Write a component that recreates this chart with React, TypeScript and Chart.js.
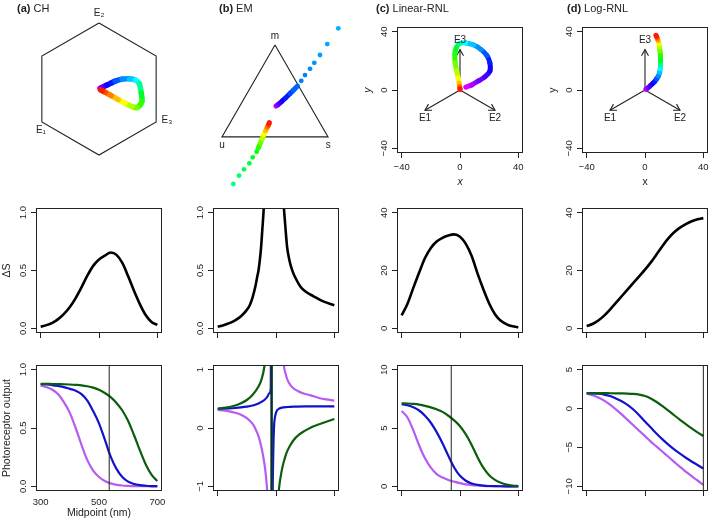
import React, { useEffect, useRef } from 'react';
import { Chart, registerables } from 'chart.js';

Chart.register(...registerables);

const FONT = '"Liberation Sans", Arial, Helvetica, sans-serif';
const INK = '#222222';
const TICK_SIZE = 9.5;
const TITLE_SIZE = 10.5;
Chart.defaults.font.family = FONT;
Chart.defaults.color = INK;

// ================= data =================
const WL = [300, 320, 340, 360, 380, 400, 420, 440, 460, 480, 500, 520, 540, 560, 580, 600, 620, 640, 660, 680, 700];

// ---- Row 1: loci (one point per WL) ----
const chLocusX = [0.013, 0.026, 0.045, 0.078, 0.12, 0.185, 0.245, 0.35, 0.46, 0.555, 0.61, 0.64, 0.65, 0.58, 0.5, 0.395, 0.29, 0.185, 0.097, 0.05, 0.025];
const chLocusY = [0.007, 0.014, 0.023, 0.04, 0.06, 0.09, 0.12, 0.15, 0.155, 0.135, 0.08, -0.06, -0.19, -0.28, -0.265, -0.215, -0.16, -0.1, -0.052, -0.027, -0.015];
const hexX = [0, 0.866, 0.866, 0, -0.866, -0.866, 0];
const hexY = [1, 0.5, -0.5, -1, -0.5, 0.5, 1];
const hexLabels = ['E₂', 'E₃', 'E₁'];
const hexLabelX = [0, 1.03, -0.88];
const hexLabelY = [1.15, -0.47, -0.62];

const emUpperWl = [300, 320, 340, 360, 380, 400, 420, 430, 440];
const emUpperX = [0.013, 0.025, 0.042, 0.065, 0.095, 0.14, 0.2, 0.245, 0.3];
const emUpperY = [0.004, 0.012, 0.025, 0.043, 0.07, 0.11, 0.17, 0.215, 0.27];
const emUpperDotWl = [443, 446, 450, 453, 456, 459, 462];
const emUpperDotX = [0.35, 0.4, 0.467, 0.524, 0.6, 0.697, 0.844];
const emUpperDotY = [0.34, 0.417, 0.5, 0.58, 0.684, 0.83, 1.04];
const emLowerDotWl = [512, 516, 520, 525, 530, 536];
const emLowerDotX = [-0.556, -0.48, -0.413, -0.342, -0.297, -0.244];
const emLowerDotY = [-1.036, -0.925, -0.84, -0.76, -0.68, -0.605];
const emLowerWl = [540, 560, 580, 600, 620, 640, 660, 680, 700];
const emLowerX = [-0.225, -0.195, -0.17, -0.148, -0.125, -0.105, -0.09, -0.08, -0.076];
const emLowerY = [-0.56, -0.49, -0.43, -0.375, -0.325, -0.285, -0.255, -0.232, -0.218];
const triX = [0, 0.7071, -0.7071, 0];
const triY = [0.8165, -0.4082, -0.4082, 0.8165];
const triLabels = ['m', 's', 'u'];
const triLabelX = [0, 0.71, -0.705];
const triLabelY = [0.937, -0.525, -0.525];

const linLocusX = [4, 8, 12.6, 17, 20.5, 20.5, 18.5, 14.5, 9.5, 4, -0.5, -2.5, -3.5, -3.3, -2.3, -1.3, -0.6, -0.3, -0.1, 0, 0];
const linLocusY = [2, 3.5, 6.2, 9, 13, 18.5, 23.6, 27.7, 30.8, 32.3, 31.7, 29.1, 24.8, 18.7, 13.3, 8.4, 4.75, 2.6, 1.4, 0.7, 0.4];
const logLocusX = [0.6, 1.2, 2.2, 3.4, 5.1, 6.6, 8, 9.2, 10, 10.5, 10.7, 10.7, 10.6, 10.3, 10, 9.6, 9.1, 8.6, 8.2, 7.8, 7.5];
const logLocusY = [0.5, 0.9, 1.6, 2.7, 4.3, 5.8, 7.7, 9.6, 12, 14.6, 17.1, 20, 23.2, 26.7, 29.6, 31.9, 33.6, 34.85, 36.1, 36.9, 37.5];
const receptorTipX = [-24, 24, 0];
const receptorTipY = [-13.85, -13.85, 27.7];
const receptorLabels = ['E1', 'E2', 'E3'];
const receptorLabelX = [-24, 24, 0];
const receptorLabelY = [-19.7, -19.7, 33.8];

// ---- Row 2: ΔS ----
const dsCH = [0.015, 0.028, 0.048, 0.08, 0.125, 0.185, 0.262, 0.355, 0.455, 0.54, 0.595, 0.628, 0.655, 0.635, 0.565, 0.45, 0.325, 0.21, 0.115, 0.055, 0.03];
const dsEMLeftWl = [300, 320, 340, 360, 380, 400, 410, 420, 430, 436, 440, 445, 449, 453, 458, 463, 470];
const dsEMLeft = [0.015, 0.028, 0.045, 0.07, 0.105, 0.16, 0.2, 0.27, 0.37, 0.45, 0.5, 0.6, 0.705, 0.85, 1.04, 1.35, 2.5];
const dsEMRightWl = [505, 515, 520, 527, 533, 538, 545, 555, 570, 584, 600, 629, 660, 700];
const dsEMRight = [2.5, 1.5, 1.25, 1.04, 0.85, 0.705, 0.6, 0.506, 0.42, 0.36, 0.32, 0.277, 0.235, 0.2];
const dsLin = [4.5, 8.5, 14, 19.3, 24.3, 27.8, 30, 31.3, 32.1, 32.5, 31.7, 29.2, 25, 19, 13.5, 8.6, 4.9, 2.6, 1.4, 0.7, 0.4];
const dsLog = [0.8, 1.5, 2.7, 4.4, 6.5, 8.8, 11.1, 13.4, 15.7, 18, 20.3, 22.8, 25.6, 28.5, 31.1, 33.2, 34.8, 36, 37, 37.7, 38.1];

// ---- Row 3: photoreceptor outputs ----
const chPurple = [0.865, 0.85, 0.828, 0.79, 0.72, 0.63, 0.5, 0.355, 0.225, 0.135, 0.08, 0.045, 0.025, 0.013, 0.007, 0.004, 0.002, 0.001, 0.001, 0, 0];
const chBlue = [0.876, 0.873, 0.868, 0.86, 0.85, 0.835, 0.82, 0.79, 0.735, 0.645, 0.54, 0.4, 0.255, 0.15, 0.08, 0.04, 0.02, 0.01, 0.005, 0.002, 0.001];
const chGreen = [0.878, 0.878, 0.877, 0.876, 0.875, 0.873, 0.87, 0.866, 0.858, 0.846, 0.827, 0.8, 0.765, 0.715, 0.65, 0.56, 0.44, 0.31, 0.19, 0.1, 0.045];

const emPurpleWlL = [300, 320, 340, 360, 380, 400, 420, 430, 440, 450, 460, 465, 470, 474, 477];
const emPurpleL = [0.31, 0.3, 0.285, 0.262, 0.228, 0.17, 0.07, -0.02, -0.14, -0.33, -0.6, -0.8, -1.1, -1.6, -2.5];
const emPurpleWlR = [518, 523, 527, 533, 539, 550, 560, 573, 590, 619, 650, 680, 700];
const emPurpleR = [2.5, 1.5, 1.09, 0.93, 0.83, 0.73, 0.68, 0.64, 0.6, 0.56, 0.51, 0.485, 0.47];
const emBlueWl = [300, 320, 340, 360, 380, 400, 420, 440, 460, 470, 478, 482, 484.5, 485.5, 488, 490, 493, 496, 500, 505, 510, 520, 540, 560, 600, 650, 700];
const emBlue = [0.33, 0.333, 0.337, 0.343, 0.352, 0.365, 0.385, 0.42, 0.48, 0.535, 0.6, 0.68, 5, -5, -1.5, -0.6, 0.0, 0.17, 0.26, 0.31, 0.33, 0.35, 0.36, 0.365, 0.37, 0.37, 0.37];
const emGreenWl = [300, 320, 340, 360, 380, 400, 420, 440, 450, 460, 470, 478, 484.5, 485.5, 492, 500, 510, 520, 530, 540, 560, 580, 600, 620, 640, 660, 680, 700];
const emGreen = [0.33, 0.345, 0.36, 0.385, 0.425, 0.48, 0.57, 0.71, 0.83, 1.05, 1.6, 3.5, 30, -30, -3, -1.7, -1.05, -0.72, -0.52, -0.38, -0.21, -0.11, -0.045, 0.01, 0.05, 0.085, 0.12, 0.155];

const linPurple = [6.45, 5.9, 4.8, 3.5, 2.4, 1.6, 1.05, 0.75, 0.55, 0.4, 0.27, 0.17, 0.11, 0.07, 0.04, 0.02, 0.01, 0.005, 0, 0, 0];
const linBlue = [7.05, 6.95, 6.78, 6.5, 6.05, 5.45, 4.65, 3.7, 2.62, 1.62, 0.9, 0.48, 0.25, 0.12, 0.06, 0.03, 0.015, 0.007, 0.003, 0.001, 0];
const linGreen = [7.12, 7.1, 7.06, 7.0, 6.9, 6.77, 6.6, 6.38, 6.05, 5.65, 5.15, 4.45, 3.55, 2.5, 1.6, 0.95, 0.55, 0.3, 0.15, 0.07, 0.03];

const logPurple = [1.9, 1.72, 1.42, 1.02, 0.5, -0.1, -0.75, -1.45, -2.15, -2.85, -3.55, -4.25, -4.9, -5.55, -6.2, -6.85, -7.5, -8.1, -8.7, -9.25, -9.8];
const logBlue = [1.98, 1.95, 1.9, 1.8, 1.62, 1.3, 0.93, 0.47, -0.12, -0.85, -1.67, -2.45, -3.23, -3.96, -4.63, -5.24, -5.8, -6.32, -6.8, -7.25, -7.7];
const logGreen = [1.99, 1.99, 1.98, 1.98, 1.97, 1.96, 1.95, 1.93, 1.88, 1.79, 1.62, 1.3, 0.84, 0.3, -0.27, -0.86, -1.44, -2.0, -2.55, -3.06, -3.53];

const peakWl = [535, 485, 470, 700];

// ---- ticks ----
const nmTicks = [300, 500, 700];
const nmTickLabels = ['300', '500', '700'];
const xyTicks = [-40, 0, 40];
const xyTickLabels = ['−40', '0', '40'];
const unitTicks = [0, 0.5, 1];
const unitTickLabels = ['0.0', '0.5', '1.0'];
const rnlDsTicks = [0, 20, 40];
const rnlDsTickLabels = ['0', '20', '40'];
const emOutTicks = [-1, 0, 1];
const emOutTickLabels = ['−1', '0', '1'];
const linOutTicks = [0, 5, 10];
const linOutTickLabels = ['0', '5', '10'];
const logOutTicks = [-10, -5, 0, 5];
const logOutTickLabels = ['−10', '−5', '0', '5'];

// ================= styling helpers =================
const HUE_WL = [300, 340, 400, 490, 537, 610, 650, 700];
const HUE_DEG = [300, 270, 240, 180, 120, 60, 30, 0];
function hueAt(w: number) {
  if (w <= HUE_WL[0]) return HUE_DEG[0];
  for (let i = 1; i < HUE_WL.length; i++) {
    if (w <= HUE_WL[i]) {
      const t = (w - HUE_WL[i - 1]) / (HUE_WL[i] - HUE_WL[i - 1]);
      return HUE_DEG[i - 1] + t * (HUE_DEG[i] - HUE_DEG[i - 1]);
    }
  }
  return HUE_DEG[HUE_DEG.length - 1];
}
const spec = (w: number) => `hsl(${hueAt(w).toFixed(1)}, 100%, 50%)`;
const PURPLE = '#B65CF0';
const BLUE = '#1212CC';
const GREEN = '#0B5E0B';

const pts = (xs: number[], ys: (number | null)[]) => xs.map((x, i) => ({ x, y: ys[i] }));

function rainbowLine(xs: number[], ys: number[], wls: number[], width: number, order = 0) {
  return {
    type: 'line', order, data: pts(xs, ys), borderWidth: width, borderColor: spec(wls[0]),
    segment: { borderColor: (c: any) => spec((wls[c.p0DataIndex] + wls[c.p1DataIndex]) / 2) },
    pointRadius: 0, tension: 0.35, borderCapStyle: 'round', borderJoinStyle: 'round', fill: false, clip: false,
  };
}
function dots(xs: number[], ys: number[], wls: number[], r: number, order = 0) {
  return {
    type: 'line', order, data: pts(xs, ys), showLine: false, pointRadius: r, pointHoverRadius: r,
    pointBackgroundColor: wls.map(spec), pointBorderWidth: 0, pointBorderColor: 'rgba(0,0,0,0)', clip: false,
  };
}
function plain(xs: number[], ys: (number | null)[], color: string, width: number, order = 1, smooth = false) {
  return {
    type: 'line', order, data: pts(xs, ys), borderColor: color, borderWidth: width, pointRadius: 0,
    tension: 0, cubicInterpolationMode: smooth ? 'monotone' : 'default', fill: false, clip: 0,
    borderCapStyle: 'butt', spanGaps: false,
  };
}

const measureCtx = document.createElement('canvas').getContext('2d') as CanvasRenderingContext2D;
function textWidth(t: string, size: number) {
  measureCtx.font = `${size}px ${FONT}`;
  return measureCtx.measureText(t).width;
}

const framePlugin = {
  id: 'rframe',
  afterDatasetsDraw(chart: any) {
    const { ctx, chartArea: a } = chart;
    ctx.save();
    ctx.strokeStyle = INK;
    ctx.lineWidth = 1;
    ctx.strokeRect(a.left + 0.5, a.top + 0.5, a.right - a.left - 1, a.bottom - a.top - 1);
    ctx.restore();
  },
};
function textPlugin(texts: string[], xs: number[], ys: number[], size: number) {
  return {
    id: 'txt',
    afterDatasetsDraw(chart: any) {
      const { ctx, scales } = chart;
      ctx.save();
      ctx.fillStyle = INK;
      ctx.font = `${size}px ${FONT}`;
      ctx.textAlign = 'center';
      ctx.textBaseline = 'middle';
      texts.forEach((t, i) => ctx.fillText(t, scales.x.getPixelForValue(xs[i]), scales.y.getPixelForValue(ys[i])));
      ctx.restore();
    },
  };
}
const arrowHeadPlugin = {
  id: 'heads',
  beforeDatasetsDraw(chart: any) {
    const { ctx, scales } = chart;
    ctx.save();
    ctx.strokeStyle = INK;
    ctx.lineWidth = 1.1;
    for (let i = 0; i < receptorTipX.length; i++) {
      const x0 = scales.x.getPixelForValue(0), y0 = scales.y.getPixelForValue(0);
      const x1 = scales.x.getPixelForValue(receptorTipX[i]), y1 = scales.y.getPixelForValue(receptorTipY[i]);
      const a = Math.atan2(y1 - y0, x1 - x0), L = 7;
      ctx.beginPath();
      ctx.moveTo(x1 - L * Math.cos(a - Math.PI / 6), y1 - L * Math.sin(a - Math.PI / 6));
      ctx.lineTo(x1, y1);
      ctx.lineTo(x1 - L * Math.cos(a + Math.PI / 6), y1 - L * Math.sin(a + Math.PI / 6));
      ctx.stroke();
    }
    ctx.restore();
  },
};

// ================= layout =================
const COL_LEFT = [36, 213, 397, 582];
const ROW_TOP = [27, 208, 365];
const ROW_H = [126, 125, 126];
const FRAME_W = 126;
const PAD_L = 36, PAD_T = 10, PAD_R = 10;
const TICK_LEN = 5;
const Y_LABEL_OFF = 12.5;
const Y_TITLE_OFF = 28.5;

type Spec = { left: number; top: number; w: number; h: number; make: () => any };

function framed(p: any): Spec {
  const H = ROW_H[p.row];
  const left = COL_LEFT[p.col] - PAD_L;
  const top = ROW_TOP[p.row] - PAD_T;
  const w = PAD_L + FRAME_W + PAD_R;
  const h = PAD_T + H + p.padB;
  const tickLH = TICK_SIZE * 1.2, titleLH = TITLE_SIZE * 1.2;
  const widest = Math.max(...p.yLabels.map((t: string) => textWidth(t, TICK_SIZE)));
  const yPad = Y_LABEL_OFF - TICK_LEN - widest / 2;
  const xTickLen = p.xTickMarks === false ? 0 : TICK_LEN;
  const xPad = p.xLabels ? p.xLabelCenter - xTickLen - tickLH / 2 : 0;
  const make = () => ({
    type: 'line',
    data: { datasets: p.datasets() },
    plugins: [framePlugin, ...(p.plugins || [])],
    options: {
      responsive: false, maintainAspectRatio: false, animation: false, devicePixelRatio: 1, events: [],
      layout: { autoPadding: false, padding: { left: 0, top: PAD_T, right: PAD_R, bottom: 0 } },
      plugins: { legend: { display: false }, tooltip: { enabled: false } },
      scales: {
        x: {
          type: 'linear', position: 'bottom', min: p.xMin, max: p.xMax,
          afterBuildTicks: (s: any) => { s.ticks = p.xTicks.map((v: number) => ({ value: v })); },
          afterFit: (s: any) => { s.height = p.padB; },
          grid: { display: xTickLen > 0, drawOnChartArea: false, drawTicks: true, tickLength: TICK_LEN, color: INK, lineWidth: 1 },
          border: { display: false },
          ticks: {
            display: !!p.xLabels, autoSkip: false, minRotation: 0, maxRotation: 0, padding: xPad,
            font: { size: TICK_SIZE }, color: INK,
            callback: (_v: any, i: number) => (p.xLabels ? p.xLabels[i] : ''),
          },
          title: {
            display: !!p.xTitle, text: p.xTitle || '', color: INK,
            font: { size: TITLE_SIZE, style: p.xTitleItalic ? 'italic' : 'normal' },
            padding: { top: 0, bottom: p.xTitle ? p.padB - p.xTitleCenter - titleLH / 2 : 0 },
          },
        },
        y: {
          type: 'linear', position: 'left', min: p.yMin, max: p.yMax,
          afterBuildTicks: (s: any) => { s.ticks = p.yTicks.map((v: number) => ({ value: v })); },
          afterFit: (s: any) => { s.width = PAD_L; },
          grid: { display: true, drawOnChartArea: false, drawTicks: true, tickLength: TICK_LEN, color: INK, lineWidth: 1 },
          border: { display: false },
          ticks: {
            autoSkip: false, minRotation: 90, maxRotation: 90, crossAlign: 'center', padding: yPad,
            font: { size: TICK_SIZE }, color: INK,
            callback: (_v: any, i: number) => p.yLabels[i],
          },
          title: {
            display: !!p.yTitle, text: p.yTitle || '', color: INK,
            font: { size: TITLE_SIZE, style: p.yTitleItalic ? 'italic' : 'normal' },
            padding: { top: PAD_L - Y_TITLE_OFF - titleLH / 2, bottom: 0 },
          },
        },
      },
    },
  });
  return { left, top, w, h, make };
}

function bare(left: number, top: number, w: number, h: number, xMin: number, xMax: number, yMin: number, yMax: number, datasets: () => any[], plugins: any[]): Spec {
  return {
    left, top, w, h,
    make: () => ({
      type: 'line',
      data: { datasets: datasets() },
      plugins,
      options: {
        responsive: false, maintainAspectRatio: false, animation: false, devicePixelRatio: 1, events: [],
        layout: { autoPadding: false, padding: 0 },
        plugins: { legend: { display: false }, tooltip: { enabled: false } },
        scales: {
          x: { type: 'linear', display: false, min: xMin, max: xMax },
          y: { type: 'linear', display: false, min: yMin, max: yMax },
        },
      },
    }),
  };
}

const NM = { xMin: 284, xMax: 716, xTicks: nmTicks };

const PANELS: Spec[] = [
  // ---- Row 1 ----
  bare(0, 0, 200, 190, -99 / 66, 101 / 66, -101 / 66, 89 / 66,
    () => [
      rainbowLine(chLocusX, chLocusY, WL, 5.5, 0),
      { ...plain(hexX, hexY, INK, 1.1, 1), clip: false },
    ],
    [textPlugin(hexLabels, hexLabelX, hexLabelY, 10)]),
  bare(190, 15, 170, 180, -85 / 75, 85 / 75, -88.7 / 75, 91.3 / 75,
    () => [
      rainbowLine(emUpperX, emUpperY, emUpperWl, 5, 0),
      dots(emUpperDotX, emUpperDotY, emUpperDotWl, 2.4, 0),
      rainbowLine(emLowerX, emLowerY, emLowerWl, 5, 0),
      dots(emLowerDotX, emLowerDotY, emLowerDotWl, 2.4, 0),
      { ...plain(triX, triY, INK, 1.1, 1), clip: false },
    ],
    [textPlugin(triLabels, triLabelX, triLabelY, 10)]),
  ...[
    { col: 2, x: linLocusX, y: linLocusY, italic: true },
    { col: 3, x: logLocusX, y: logLocusY, italic: false },
  ].map((c) =>
    framed({
      col: c.col, row: 0, padB: 38,
      xMin: -43.2, xMax: 43.2, yMin: -43.2, yMax: 43.2,
      xTicks: xyTicks, xLabels: xyTickLabels, xLabelCenter: 14,
      yTicks: xyTicks, yLabels: xyTickLabels,
      xTitle: 'x', xTitleCenter: 29, xTitleItalic: c.italic,
      yTitle: 'y', yTitleItalic: c.italic,
      datasets: () => [
        rainbowLine(c.x, c.y, WL, 5, 0),
        ...receptorTipX.map((tx, i) => plain([0, tx], [0, receptorTipY[i]], INK, 1.1, 1)),
      ],
      plugins: [arrowHeadPlugin, textPlugin(receptorLabels, receptorLabelX, receptorLabelY, 10)],
    })
  ),
  // ---- Row 2: ΔS ----
  framed({
    col: 0, row: 1, padB: 10, ...NM, yMin: -0.04, yMax: 1.04,
    yTicks: unitTicks, yLabels: unitTickLabels, yTitle: 'ΔS',
    datasets: () => [plain(WL, dsCH, '#000', 2.6, 0, true)],
  }),
  framed({
    col: 1, row: 1, padB: 10, ...NM, yMin: -0.04, yMax: 1.04,
    yTicks: unitTicks, yLabels: unitTickLabels,
    datasets: () => [plain([...dsEMLeftWl, 490, ...dsEMRightWl], [...dsEMLeft, null, ...dsEMRight], '#000', 2.6, 0, true)],
  }),
  framed({
    col: 2, row: 1, padB: 10, ...NM, yMin: -1.6, yMax: 41.6,
    yTicks: rnlDsTicks, yLabels: rnlDsTickLabels,
    datasets: () => [plain(WL, dsLin, '#000', 2.6, 0, true)],
  }),
  framed({
    col: 3, row: 1, padB: 10, ...NM, yMin: -1.6, yMax: 41.6,
    yTicks: rnlDsTicks, yLabels: rnlDsTickLabels,
    datasets: () => [plain(WL, dsLog, '#000', 2.6, 0, true)],
  }),
  // ---- Row 3: outputs ----
  framed({
    col: 0, row: 2, padB: 32, ...NM, yMin: -0.04, yMax: 1.04,
    xLabels: nmTickLabels, xTickMarks: false, xLabelCenter: 6,
    xTitle: 'Midpoint (nm)', xTitleCenter: 22.3,
    yTicks: unitTicks, yLabels: unitTickLabels, yTitle: 'Photoreceptor output',
    datasets: () => [
      plain([peakWl[0], peakWl[0]], [-0.04, 1.04], INK, 1, 0),
      plain(WL, chGreen, GREEN, 2.2, 1, true),
      plain(WL, chBlue, BLUE, 2.2, 2, true),
      plain(WL, chPurple, PURPLE, 2.2, 3, true),
    ],
  }),
  framed({
    col: 1, row: 2, padB: 10, ...NM, yMin: -1.08, yMax: 1.08,
    yTicks: emOutTicks, yLabels: emOutTickLabels,
    datasets: () => [
      plain([peakWl[1], peakWl[1]], [-1.08, 1.08], INK, 1, 0),
      plain(emGreenWl, emGreen, GREEN, 2.2, 1, true),
      plain(emBlueWl, emBlue, BLUE, 2.2, 2, true),
      plain([...emPurpleWlL, 490, ...emPurpleWlR], [...emPurpleL, null, ...emPurpleR], PURPLE, 2.2, 3, true),
    ],
  }),
  framed({
    col: 2, row: 2, padB: 10, ...NM, yMin: -0.4, yMax: 10.4,
    yTicks: linOutTicks, yLabels: linOutTickLabels,
    datasets: () => [
      plain([peakWl[2], peakWl[2]], [-0.4, 10.4], INK, 1, 0),
      plain(WL, linGreen, GREEN, 2.2, 1, true),
      plain(WL, linBlue, BLUE, 2.2, 2, true),
      plain(WL, linPurple, PURPLE, 2.2, 3, true),
    ],
  }),
  framed({
    col: 3, row: 2, padB: 10, ...NM, yMin: -10.6, yMax: 5.6,
    yTicks: logOutTicks, yLabels: logOutTickLabels,
    datasets: () => [
      plain([peakWl[3], peakWl[3]], [-10.6, 5.6], INK, 1, 0),
      plain(WL, logGreen, GREEN, 2.2, 1, true),
      plain(WL, logBlue, BLUE, 2.2, 2, true),
      plain(WL, logPurple, PURPLE, 2.2, 3, true),
    ],
  }),
];

const PANEL_TITLES = [
  { left: 17, tag: '(a)', name: 'CH' },
  { left: 219, tag: '(b)', name: 'EM' },
  { left: 376, tag: '(c)', name: 'Linear-RNL' },
  { left: 567, tag: '(d)', name: 'Log-RNL' },
];

export default function App() {
  const refs = useRef<(HTMLCanvasElement | null)[]>([]);
  useEffect(() => {
    const charts = PANELS.map((p, i) => new Chart(refs.current[i] as HTMLCanvasElement, p.make()));
    return () => charts.forEach((c) => c.destroy());
  }, []);
  return (
    <div style={{ position: 'absolute', left: 0, top: 0, width: 709, height: 528, overflow: 'hidden', background: '#fff', fontFamily: FONT, color: INK }}>
      {PANELS.map((p, i) => (
        <canvas
          key={i}
          ref={(el) => { refs.current[i] = el; }}
          width={p.w}
          height={p.h}
          style={{ position: 'absolute', left: p.left, top: p.top, width: p.w, height: p.h }}
        />
      ))}
      {PANEL_TITLES.map((t) => (
        <div key={t.tag} style={{ position: 'absolute', left: t.left, top: 2, fontSize: 11, lineHeight: '13px', whiteSpace: 'nowrap' }}>
          <b>{t.tag}</b> {t.name}
        </div>
      ))}
    </div>
  );
}
